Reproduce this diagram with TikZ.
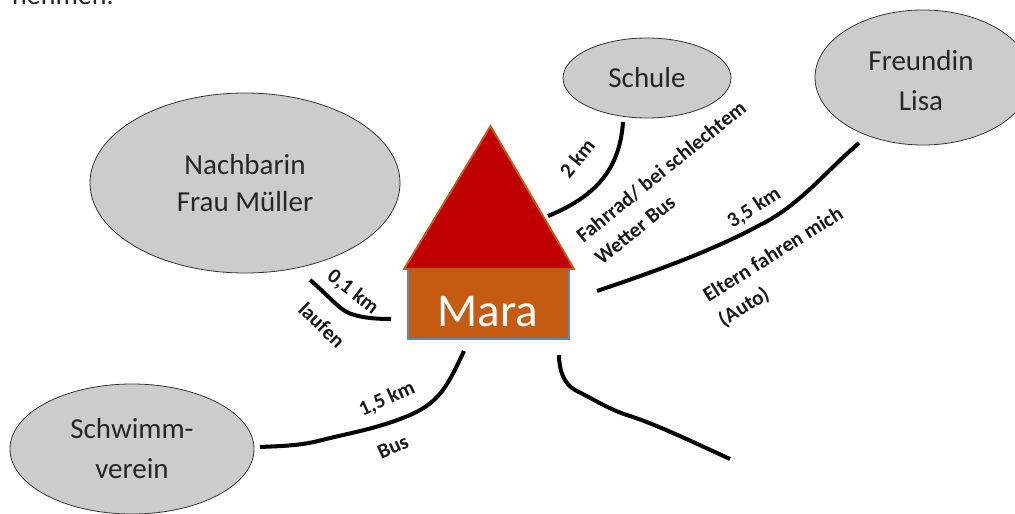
\documentclass[tikz,border=0pt]{standalone}
\usepackage{fontspec}
\setmainfont{Carlito}
\usetikzlibrary{shapes.geometric}
\definecolor{roofred}{RGB}{192,0,0}
\definecolor{rust}{RGB}{197,90,17}
\definecolor{wallblue}{RGB}{91,137,184}
\tikzset{
  x=1pt,y=-1pt,
  bubbletext/.style={align=center,inner sep=0pt,font=\fontsize{29}{37}\selectfont,text=black!85},
  bubble/.style={ellipse,draw=black!80,line width=0.8pt,fill=black!20,minimum width=2*#1,bubbletext},
  road/.style={line width=4pt,black,line join=round},
  lbl/.style={font=\bfseries\fontsize{21}{29}\selectfont,align=left,inner sep=0pt,text=black!90},
}
\begin{document}
\begin{tikzpicture}
\useasboundingbox (0,0) rectangle (1015,514);
\begin{scope}
\clip (0,0) rectangle (1015,514);
\node[font=\fontsize{28}{30}\selectfont,anchor=base west,inner sep=0pt,text=black!85] (cut) at (12,5) {nehmen.};
\node[bubble=108,minimum height=135] (lisa) at (923,77.5) {};
\end{scope}
\node[bubbletext,font=\fontsize{29}{40}\selectfont] (lisatext) at (921,81) {Freundin\\Lisa};
\node[bubble=155,minimum height=180] (nach) at (245,183) {Nachbarin\\Frau Müller};
\node[bubble=84,minimum height=80] (schule) at (647,78) {Schule};
\node[bubble=122,minimum height=130,font=\fontsize{29}{40}\selectfont] (schwimm) at (132,449) {Schwimm-\\verein};
\path[fill=rust,draw=wallblue,line width=1.8pt] (408,269) rectangle (569,339);
\node[font=\fontsize{47}{50}\selectfont,text=white,inner sep=0pt] (mara) at (488,312) {Mara};
\path[fill=roofred,draw=rust,line width=1.8pt,line join=miter] (490.5,126) -- (574,269) -- (404,269) -- cycle;
\coordinate (a1) at (310,280); \coordinate (a2) at (391,319);
\coordinate (b1) at (623,122); \coordinate (b2) at (548,216);
\coordinate (c1) at (859,143); \coordinate (c2) at (597,291);
\coordinate (d1) at (464,351); \coordinate (d2) at (260,447);
\coordinate (e1) at (559,355); \coordinate (e2) at (730,459);
\draw[road] (a1) .. controls (322,290) and (333,302) .. (342,309) .. controls (352,317) and (372,319) .. (a2);
\draw[road] (b1) .. controls (620,165) and (600,195) .. (b2);
\draw[road] (c1) .. controls (825,172) and (800,205) .. (760,225) .. controls (710,252) and (650,273) .. (c2);
\draw[road] (d1) .. controls (448,385) and (440,402) .. (410,415) .. controls (380,428) and (350,433) .. (322,440) .. controls (300,446) and (280,446) .. (d2);
\draw[road] (e1) .. controls (559,370) and (564,384) .. (575,390) .. controls (595,400) and (610,410) .. (630,416) .. controls (660,426) and (695,443) .. (e2);
\node[lbl,rotate=-38] (t1) at (353,292) {0,1 km};
\node[lbl,rotate=-44] (t2) at (322,325) {laufen};
\node[lbl,rotate=51] (t3) at (577,158) {2 km};
\node[lbl,rotate=39,anchor=west] (t4) at (588,249) {Fahrrad/ bei schlechtem\\Wetter Bus};
\node[lbl,rotate=33] (t5) at (754,208) {3,5 km};
\node[lbl,rotate=32,anchor=west] (t6) at (713,310) {Eltern fahren mich\\(Auto)};
\node[lbl,rotate=24] (t7) at (387,399) {1,5 km};
\node[lbl,rotate=24] (t8) at (393,447) {Bus};
\end{tikzpicture}
\end{document}
